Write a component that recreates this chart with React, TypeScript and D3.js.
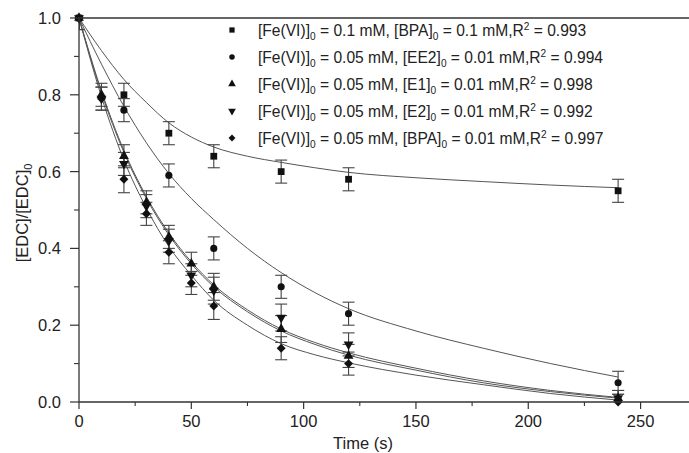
import React from "react";
import * as d3 from "d3";

// ---------- data ----------
const fitTimes = [0, 10, 20, 30, 40, 50, 60, 75, 90, 105, 120, 150, 180, 210, 240];

const bpa01Times = [0, 20, 40, 60, 90, 120, 240];
const bpa01Vals = [1.0, 0.8, 0.7, 0.64, 0.6, 0.58, 0.55];
const bpa01Err = [0.03, 0.03, 0.03, 0.03, 0.03, 0.03, 0.03];
const bpa01Fit = [1, 0.915, 0.84, 0.78, 0.727, 0.69, 0.664, 0.64, 0.624, 0.61, 0.598, 0.584, 0.574, 0.565, 0.558];

const ee2Times = [0, 20, 40, 60, 90, 120, 240];
const ee2Vals = [1.0, 0.76, 0.59, 0.4, 0.3, 0.23, 0.05];
const ee2Err = [0.03, 0.03, 0.03, 0.03, 0.03, 0.03, 0.03];
const ee2Fit = [1, 0.88, 0.77, 0.675, 0.595, 0.53, 0.475, 0.4, 0.337, 0.285, 0.243, 0.185, 0.14, 0.1, 0.065];

const e1Times = [0, 10, 20, 30, 40, 50, 60, 90, 120, 240];
const e1Vals = [1.0, 0.8, 0.64, 0.52, 0.43, 0.36, 0.3, 0.19, 0.12, 0.01];
const e1Err = [0.03, 0.03, 0.03, 0.03, 0.03, 0.03, 0.035, 0.035, 0.03, 0.02];
const e1Fit = [1, 0.81, 0.655, 0.535, 0.44, 0.365, 0.305, 0.24, 0.19, 0.155, 0.128, 0.088, 0.055, 0.03, 0.012];

const e2Times = [0, 10, 20, 30, 40, 50, 60, 90, 120, 240];
const e2Vals = [1.0, 0.79, 0.62, 0.51, 0.42, 0.33, 0.29, 0.22, 0.15, 0.01];
const e2Err = [0.03, 0.03, 0.03, 0.03, 0.03, 0.03, 0.035, 0.035, 0.03, 0.02];
const e2Fit = [1, 0.805, 0.65, 0.53, 0.435, 0.36, 0.3, 0.235, 0.185, 0.15, 0.122, 0.083, 0.05, 0.027, 0.01];

const bpa001Times = [0, 10, 20, 30, 40, 50, 60, 90, 120, 240];
const bpa001Vals = [1.0, 0.79, 0.58, 0.49, 0.39, 0.31, 0.25, 0.14, 0.1, 0.0];
const bpa001Err = [0.03, 0.03, 0.035, 0.03, 0.03, 0.03, 0.035, 0.03, 0.03, 0.02];
const bpa001Fit = [1, 0.795, 0.63, 0.505, 0.405, 0.33, 0.265, 0.2, 0.152, 0.123, 0.102, 0.07, 0.045, 0.022, 0.005];

const legendLabels = [
  "[Fe(VI)]_0 = 0.1 mM, [BPA]_0 = 0.1 mM,R^2 = 0.993",
  "[Fe(VI)]_0 = 0.05 mM, [EE2]_0 = 0.01 mM,R^2 = 0.994",
  "[Fe(VI)]_0 = 0.05 mM, [E1]_0 = 0.01 mM,R^2 = 0.998",
  "[Fe(VI)]_0 = 0.05 mM, [E2]_0 = 0.01 mM,R^2 = 0.992",
  "[Fe(VI)]_0 = 0.05 mM, [BPA]_0 = 0.01 mM,R^2 = 0.997",
];

const xTicks = [0, 50, 100, 150, 200, 250];
const xMinor = [25, 75, 125, 175, 225];
const yTicks = [0, 0.2, 0.4, 0.6, 0.8, 1.0];
const yMinor = [0.1, 0.3, 0.5, 0.7, 0.9];

type Series = { times: number[]; vals: number[]; err: number[]; fit: number[]; shape: string };
const series: Series[] = [
  { times: bpa01Times, vals: bpa01Vals, err: bpa01Err, fit: bpa01Fit, shape: "square" },
  { times: ee2Times, vals: ee2Vals, err: ee2Err, fit: ee2Fit, shape: "circle" },
  { times: e1Times, vals: e1Vals, err: e1Err, fit: e1Fit, shape: "up" },
  { times: e2Times, vals: e2Vals, err: e2Err, fit: e2Fit, shape: "down" },
  { times: bpa001Times, vals: bpa001Vals, err: bpa001Err, fit: bpa001Fit, shape: "diamond" },
];

// ---------- layout ----------
const W = 689;
const H = 453;
const x = d3.scaleLinear().domain([0, 272]).range([79, 690]);
const y = d3.scaleLinear().domain([0, 1]).range([402, 18]);

const FONT = "'Liberation Sans', Arial, sans-serif";
const AXIS = "#333";
const CURVE = "#555";
const MARK = "#111";
const TXT = "#222";

function symbolPath(shape: string, scale = 1): { d: string; rot: number } {
  switch (shape) {
    case "square":
      return { d: d3.symbol(d3.symbolSquare, 46 * scale)()!, rot: 0 };
    case "circle":
      return { d: d3.symbol(d3.symbolCircle, 40 * scale)()!, rot: 0 };
    case "up":
      return { d: d3.symbol(d3.symbolTriangle, 42 * scale)()!, rot: 0 };
    case "down":
      return { d: d3.symbol(d3.symbolTriangle, 42 * scale)()!, rot: 180 };
    default:
      return { d: d3.symbol(d3.symbolSquare, 40 * scale)()!, rot: 45 };
  }
}

function RichText({ text, x0, y0, size }: { text: string; x0: number; y0: number; size: number }) {
  const parts = text.split(/([_^]\S)/).filter((p) => p.length > 0);
  const out: React.ReactNode[] = [];
  let shift = 0;
  parts.forEach((p, i) => {
    if (p[0] === "_" && p.length === 2) {
      out.push(
        <tspan key={i} dy={4 - shift} fontSize={size * 0.65}>
          {p[1]}
        </tspan>
      );
      shift = 4;
    } else if (p[0] === "^" && p.length === 2) {
      out.push(
        <tspan key={i} dy={-6 - shift} fontSize={size * 0.65}>
          {p[1]}
        </tspan>
      );
      shift = -6;
    } else {
      out.push(
        <tspan key={i} dy={-shift}>
          {p}
        </tspan>
      );
      shift = 0;
    }
  });
  return (
    <text x={x0} y={y0} fontSize={size} fontFamily={FONT} fill={TXT}>
      {out}
    </text>
  );
}

export default function App() {
  const line = d3
    .line<[number, number]>()
    .x((d) => x(d[0]))
    .y((d) => y(d[1]))
    .curve(d3.curveMonotoneX);

  const legendY0 = 30;
  const legendDy = 27;

  return (
    <svg width={W} height={H} style={{ position: "absolute", left: 0, top: 0, background: "#fff" }}>
      <defs>
        <clipPath id="plotClip">
          <rect x={x(0)} y={y(1)} width={690 - x(0)} height={y(0) - y(1)} />
        </clipPath>
      </defs>

      {/* fitted curves */}
      <g clipPath="url(#plotClip)">
        {series.map((s, i) => (
          <path
            key={"fit" + i}
            d={line(fitTimes.map((t, j) => [t, s.fit[j]] as [number, number])) || ""}
            fill="none"
            stroke={CURVE}
            strokeWidth={1}
          />
        ))}
        {/* error bars */}
        {series.map((s, i) =>
          s.times.map((t, j) => {
            const cx = x(t);
            const top = y(s.vals[j] + s.err[j]);
            const bot = y(s.vals[j] - s.err[j]);
            return (
              <g key={"eb" + i + "-" + j} stroke="#444" strokeWidth={1.1}>
                <line x1={cx} x2={cx} y1={top} y2={bot} />
                <line x1={cx - 6} x2={cx + 6} y1={top} y2={top} />
                <line x1={cx - 6} x2={cx + 6} y1={bot} y2={bot} />
              </g>
            );
          })
        )}
      </g>

      {/* markers */}
      {series.map((s, i) =>
        s.times.map((t, j) => {
          const sp = symbolPath(s.shape);
          return (
            <path
              key={"m" + i + "-" + j}
              d={sp.d}
              transform={`translate(${x(t)},${y(s.vals[j])}) rotate(${sp.rot})`}
              fill={MARK}
            />
          );
        })
      )}

      {/* axes */}
      <line x1={x(0)} x2={689} y1={y(1)} y2={y(1)} stroke={AXIS} strokeWidth={1.3} />
      <line x1={x(0)} x2={689} y1={y(0)} y2={y(0)} stroke={AXIS} strokeWidth={1.3} />
      <line x1={x(0)} x2={x(0)} y1={y(0)} y2={y(1)} stroke={AXIS} strokeWidth={1.3} />

      {yTicks.map((v) => (
        <g key={"yt" + v}>
          <line x1={x(0) - 9} x2={x(0)} y1={y(v)} y2={y(v)} stroke={AXIS} strokeWidth={1.2} />
          <text
            x={x(0) - 18}
            y={y(v)}
            dy="0.36em"
            textAnchor="end"
            fontSize={16.5}
            fontFamily={FONT}
            fill={TXT}
          >
            {v.toFixed(1)}
          </text>
        </g>
      ))}
      {yMinor.map((v) => (
        <line key={"ym" + v} x1={x(0) - 5} x2={x(0)} y1={y(v)} y2={y(v)} stroke={AXIS} strokeWidth={1.1} />
      ))}
      {xTicks.map((v) => (
        <g key={"xt" + v}>
          <line x1={x(v)} x2={x(v)} y1={y(0)} y2={y(0) + 7} stroke={AXIS} strokeWidth={1.2} />
          <text x={x(v)} y={y(0) + 25} textAnchor="middle" fontSize={16.5} fontFamily={FONT} fill={TXT}>
            {v}
          </text>
        </g>
      ))}
      {xMinor.map((v) => (
        <line key={"xm" + v} x1={x(v)} x2={x(v)} y1={y(0)} y2={y(0) + 4} stroke={AXIS} strokeWidth={1.1} />
      ))}

      {/* axis titles */}
      <text x={363} y={449} textAnchor="middle" fontSize={16.5} fontFamily={FONT} fill={TXT}>
        Time (s)
      </text>
      <text
        transform="translate(28,213) rotate(-90)"
        textAnchor="middle"
        fontSize={16.5}
        fontFamily={FONT}
        fill={TXT}
      >
        [EDC]/[EDC]
        <tspan fontSize={11} dy={4}>
          0
        </tspan>
      </text>

      {/* legend */}
      {series.map((s, i) => {
        const sp = symbolPath(s.shape, 0.6);
        const ly = legendY0 + i * legendDy;
        return (
          <g key={"lg" + i}>
            <path d={sp.d} transform={`translate(232,${ly}) rotate(${sp.rot})`} fill={MARK} />
            <RichText text={legendLabels[i]} x0={258} y0={ly + 6} size={15.6} />
          </g>
        );
      })}
    </svg>
  );
}
